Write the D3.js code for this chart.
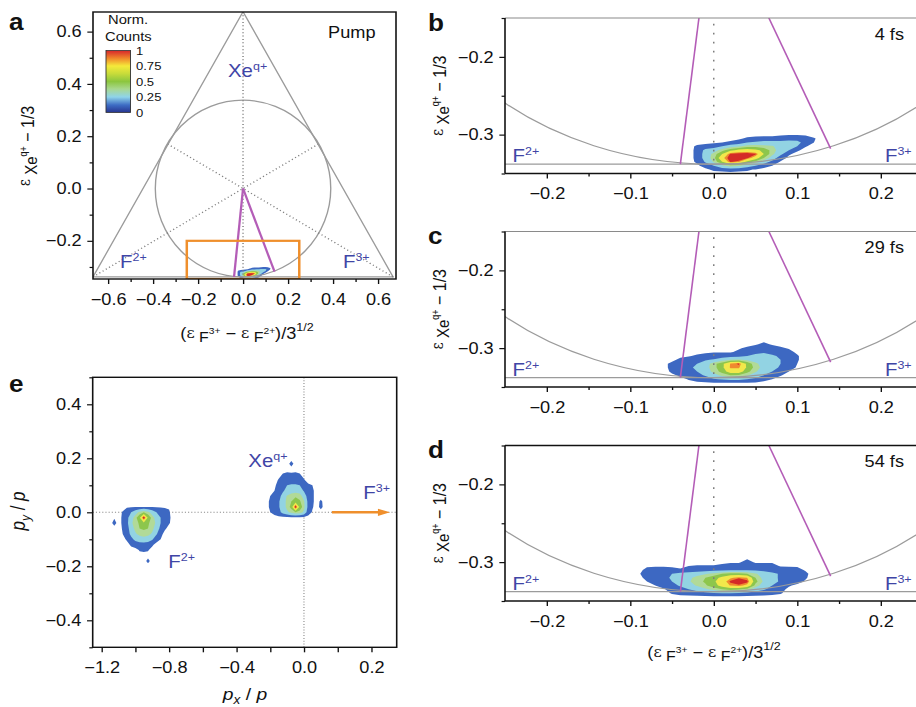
<!DOCTYPE html>
<html>
<head>
<meta charset="utf-8">
<script src="https://cdn.jsdelivr.net/npm/d3@7"></script>
<style>
  body { margin: 0; background: #fff; }
  svg { display: block; font-family: "Liberation Sans", Arial, sans-serif; }
  text { white-space: pre; }
</style>
</head>
<body>
<svg id="chart" width="916" height="707"></svg>
<script>
// the original figure is stretched horizontally; draw in unstretched units and scale
const SX = 1.135;
const X = v => v / SX;

// ---------- data ----------
const colorbarTicks = [0, 0.25, 0.5, 0.75, 1];
const colorbarTickLabels = ["0", "0.25", "0.5", "0.75", "1"];
const colorbarStops = [0, 0.12, 0.25, 0.38, 0.5, 0.63, 0.75, 0.87, 1];
const colorbarColors = ["#27358f", "#3d6cc4", "#8fd4ea", "#a9d88f", "#8cc63f", "#c9dc3a", "#f5ea3a", "#f08a2b", "#d7262b"];

const contourLevels = [0.04, 0.2, 0.38, 0.5, 0.65, 0.84, 0.9];
const contourColors = ["#3d68c2", "#92d3e3", "#b1da98", "#8dc64c", "#f2e84b", "#ef8a2f", "#d42a27"];

const triangleVertices = [[-0.667, -0.338], [0, 0.676], [0.667, -0.338]];
const circleRadii = [0.39, 0.338];
const medianLines = [
  [[0, 0.676], [0, -0.338]],
  [[-0.667, -0.338], [0.333, 0.169]],
  [[0.667, -0.338], [-0.333, 0.169]]
];
const magentaEnds = [[-0.04, -0.338], [0.14, -0.318]];
const zoomBox = [[-0.25, -0.2], [0.25, -0.346]];

const aXTicks = [-0.6, -0.4, -0.2, 0, 0.2, 0.4, 0.6];
const aXMinor = [-0.5, -0.3, -0.1, 0.1, 0.3, 0.5];
const aYTicks = [-0.2, 0, 0.2, 0.4, 0.6];
const aYMinor = [-0.3, -0.1, 0.1, 0.3, 0.5];
const zXTicks = [-0.2, -0.1, 0, 0.1, 0.2];
const zXMinor = [-0.15, -0.05, 0.05, 0.15];
const zYTicks = [-0.3, -0.2];
const zYMinor = [-0.35, -0.25, -0.15];
const eXTicks = [-1.2, -1.0, -0.8, -0.6, -0.4, -0.2, 0, 0.2, 0.4];
const eXLabelTicks = [-1.2, -0.8, -0.4, 0, 0.4];
const eXTickLabels = ["\u22121.2", "\u22120.8", "\u22120.4", "0.0", "0.2"];
const eYTicks = [-0.4, -0.2, 0, 0.2, 0.4];
const eYMinor = [-0.5, -0.3, -0.1, 0.1, 0.3, 0.5];

const delayLabels = ["4 fs", "29 fs", "54 fs"];
const zoomLetters = ["b", "c", "d"];

// density grids: origin = [x of first column, y of first (top) row], step = [dx, dy]
const pumpOrigin = [-0.03, -0.300], pumpStep = [0.01, 0.005];
const pumpValues = [
  [0,0,0,0,0,0,0,0,0,0,0,0.02,0.03,0.03,0.02,0,0],
  [0,0,0,0,0,0,0.02,0.06,0.08,0.10,0.10,0.12,0.15,0.15,0.12,0.05,0],
  [0,0,0,0.02,0.04,0.06,0.10,0.20,0.22,0.25,0.25,0.25,0.25,0.24,0.15,0.04,0],
  [0,0.06,0.10,0.12,0.20,0.30,0.35,0.45,0.45,0.42,0.40,0.30,0.27,0.20,0.05,0,0],
  [0,0.07,0.25,0.30,0.45,0.60,0.70,0.75,0.70,0.60,0.45,0.30,0.20,0.06,0,0,0],
  [0,0.07,0.28,0.42,0.65,0.92,0.96,0.95,0.92,0.65,0.42,0.25,0.06,0,0,0,0],
  [0,0.07,0.28,0.45,0.80,0.96,1.00,0.92,0.75,0.50,0.30,0.10,0.01,0,0,0,0],
  [0,0.06,0.22,0.40,0.65,0.92,0.86,0.60,0.45,0.30,0.15,0.03,0,0,0,0,0],
  [0,0.02,0.08,0.20,0.35,0.45,0.40,0.30,0.20,0.10,0.04,0,0,0,0,0,0],
  [0,0,0.02,0.06,0.08,0.10,0.08,0.06,0.03,0,0,0,0,0,0,0,0],
  [0,0,0,0,0,0,0,0,0,0,0,0,0,0,0,0,0]
];
const fs29Origin = [-0.06, -0.290], fs29Step = [0.01, 0.005];
const fs29Values = [
  [0,0,0,0,0,0,0,0,0,0,0,0,0.02,0,0,0,0,0],
  [0,0,0,0,0,0,0,0,0,0,0,0.03,0.06,0.03,0,0,0,0],
  [0,0,0,0,0,0,0,0,0,0.03,0.06,0.08,0.10,0.08,0.06,0.03,0,0],
  [0,0,0,0,0,0.02,0.03,0.03,0.03,0.06,0.10,0.15,0.18,0.15,0.10,0.07,0.02,0],
  [0,0,0.02,0.03,0.06,0.08,0.10,0.10,0.12,0.15,0.20,0.25,0.25,0.22,0.18,0.10,0.05,0],
  [0,0.02,0.06,0.10,0.12,0.18,0.22,0.30,0.38,0.40,0.35,0.30,0.28,0.25,0.20,0.10,0.05,0],
  [0.02,0.06,0.10,0.15,0.20,0.30,0.45,0.60,0.85,0.92,0.60,0.42,0.30,0.25,0.20,0.10,0.04,0],
  [0,0.08,0.12,0.18,0.22,0.32,0.45,0.60,0.86,0.86,0.62,0.45,0.32,0.25,0.18,0.08,0.03,0],
  [0,0.06,0.10,0.15,0.20,0.30,0.42,0.55,0.75,0.75,0.55,0.40,0.28,0.20,0.10,0.04,0,0],
  [0,0.02,0.06,0.10,0.15,0.22,0.32,0.42,0.50,0.48,0.40,0.30,0.20,0.12,0.05,0,0,0],
  [0,0,0,0.05,0.08,0.12,0.18,0.22,0.25,0.24,0.20,0.15,0.08,0.04,0,0,0,0],
  [0,0,0,0,0.02,0.02,0.02,0.02,0.02,0.02,0.02,0.02,0,0,0,0,0,0],
  [0,0,0,0,0,0,0,0,0,0,0,0,0,0,0,0,0,0]
];
const fs54Origin = [-0.10, -0.290], fs54Step = [0.01, 0.005];
const fs54Values = [
  [0,0,0,0,0,0,0,0,0,0,0,0,0,0,0,0,0,0,0,0,0,0,0],
  [0,0,0,0,0,0,0,0,0,0,0,0,0,0,0.03,0,0,0,0,0,0,0,0],
  [0,0,0,0,0,0,0,0,0,0,0,0.03,0.03,0.03,0.07,0.03,0.03,0.03,0,0,0,0,0],
  [0,0,0.03,0.03,0.03,0.03,0.02,0.04,0.05,0.05,0.05,0.05,0.08,0.08,0.08,0.08,0.08,0.08,0.03,0.03,0.03,0,0],
  [0,0.02,0.06,0.08,0.08,0.06,0.05,0.08,0.10,0.12,0.14,0.15,0.16,0.17,0.18,0.16,0.15,0.12,0.10,0.08,0.07,0.03,0],
  [0,0.03,0.08,0.12,0.16,0.20,0.25,0.28,0.32,0.36,0.42,0.50,0.55,0.55,0.50,0.40,0.30,0.24,0.18,0.14,0.10,0.06,0],
  [0,0.02,0.06,0.10,0.16,0.22,0.28,0.35,0.42,0.50,0.58,0.70,0.82,0.88,0.84,0.50,0.32,0.24,0.18,0.12,0.08,0.05,0],
  [0,0,0.04,0.07,0.13,0.20,0.28,0.36,0.45,0.52,0.62,0.76,0.92,1.00,0.93,0.55,0.35,0.25,0.18,0.12,0.07,0.03,0],
  [0,0,0,0.04,0.08,0.15,0.22,0.30,0.40,0.48,0.58,0.72,0.85,0.88,0.80,0.45,0.30,0.20,0.12,0.05,0.02,0,0],
  [0,0,0,0,0.03,0.08,0.15,0.20,0.28,0.35,0.42,0.50,0.55,0.52,0.45,0.30,0.22,0.14,0.07,0.02,0,0,0],
  [0,0,0,0,0,0.05,0.08,0.10,0.12,0.15,0.18,0.20,0.20,0.18,0.15,0.12,0.10,0.07,0.05,0,0,0,0],
  [0,0,0,0,0,0,0,0,0,0,0,0,0,0,0,0,0,0,0,0,0,0,0],
  [0,0,0,0,0,0,0,0,0,0,0,0,0,0,0,0,0,0,0,0,0,0,0]
];
const f2Origin = [-1.15, 0.04], f2Step = [0.025, 0.02];
const f2Values = [
  [0,0,0,0,0,0,0,0,0,0,0,0,0,0,0,0,0],
  [0,0,0,0,0.03,0.03,0.03,0.03,0.03,0.03,0.03,0.03,0.03,0.03,0.03,0,0],
  [0,0,0,0.05,0.10,0.20,0.30,0.42,0.50,0.42,0.30,0.20,0.12,0.08,0.05,0,0],
  [0,0.03,0,0.06,0.15,0.30,0.45,0.62,1.00,0.62,0.45,0.30,0.20,0.12,0.06,0,0],
  [0,0.08,0,0.06,0.15,0.35,0.45,0.52,0.60,0.52,0.45,0.35,0.20,0.10,0.05,0,0],
  [0,0,0,0.05,0.12,0.30,0.42,0.50,0.52,0.50,0.42,0.30,0.15,0.06,0,0,0],
  [0,0,0,0.04,0.10,0.25,0.36,0.42,0.45,0.42,0.36,0.22,0.08,0,0,0,0],
  [0,0,0,0,0.06,0.15,0.25,0.30,0.32,0.30,0.22,0.10,0.04,0,0,0,0],
  [0,0,0,0,0,0.06,0.10,0.12,0.12,0.10,0.06,0,0,0,0,0,0],
  [0,0,0,0,0,0,0,0.05,0.06,0.05,0,0,0,0,0,0,0],
  [0,0,0,0,0,0,0,0,0,0,0,0,0,0,0,0,0],
  [0,0,0,0,0,0,0,0,0,0.07,0,0,0,0,0,0,0],
  [0,0,0,0,0,0,0,0,0,0,0,0,0,0,0,0,0]
];
const xeOrigin = [-0.225, 0.20], xeStep = [0.025, 0.02];
const xeValues = [
  [0,0,0,0,0,0,0,0,0,0,0,0,0,0,0,0],
  [0,0,0,0,0,0,0.08,0,0,0,0,0,0,0,0,0],
  [0,0,0,0,0,0,0,0,0,0,0,0,0,0,0,0],
  [0,0,0,0,0.05,0.07,0.06,0.07,0.05,0,0,0,0,0,0,0],
  [0,0,0,0.05,0.10,0.12,0.12,0.12,0.10,0.05,0,0,0,0,0,0],
  [0,0,0.02,0.08,0.15,0.20,0.22,0.22,0.20,0.10,0.06,0.04,0,0,0,0],
  [0,0,0.04,0.10,0.18,0.25,0.30,0.32,0.30,0.18,0.10,0.06,0,0,0,0],
  [0,0.04,0.08,0.15,0.25,0.40,0.45,0.48,0.45,0.30,0.12,0.06,0,0,0,0],
  [0,0.06,0.10,0.18,0.30,0.42,0.50,0.58,0.52,0.40,0.15,0.06,0,0.06,0,0],
  [0,0.06,0.10,0.18,0.30,0.42,0.55,1.00,0.60,0.42,0.15,0.05,0,0.07,0,0],
  [0,0.04,0.08,0.15,0.25,0.35,0.42,0.50,0.45,0.35,0.10,0.03,0,0,0,0],
  [0,0,0,0,0,0,0,0,0,0,0,0,0,0,0,0],
  [0,0,0,0,0,0,0,0,0,0,0,0,0,0,0,0]
];
const zoomGrids = [
  [pumpOrigin, pumpStep, pumpValues],
  [fs29Origin, fs29Step, fs29Values],
  [fs54Origin, fs54Step, fs54Values]
];
const eGuides = [[[-1.253, 0], [0.55, 0]], [[0, -0.5], [0, 0.5]]];
const eArrow = [[0.166, 0], [0.51, 0]];

// ---------- style ----------
const GREY = "#9b9b9b", MAGENTA = "#b45db7", ORANGE = "#ef8f2c", LABEL = "#3f45a6", INK = "#111";
const SERIF = "'DejaVu Serif', 'Liberation Serif', serif";

const svg = d3.select("#chart");
const defs = svg.append("defs");
const root = svg.append("g").attr("transform", `scale(${SX},1)`);

// ---------- helpers ----------
function rich(g, parts, base) {
  const t = g.append("text").attr("font-size", base).attr("fill", INK);
  let cur = 0;
  parts.forEach(p => {
    const s = p.shift || 0;
    t.append("tspan")
      .attr("dy", s - cur)
      .attr("font-size", p.fs || base)
      .attr("font-family", p.ff || null)
      .attr("font-style", p.it ? "italic" : null)
      .text(p.t);
    cur = s;
  });
  return t;
}

function styleAxis(sel) {
  sel.select(".domain").remove();
  sel.attr("font-family", null).attr("font-size", 16);
  sel.selectAll("line").attr("stroke", INK).attr("stroke-width", 1.2);
  sel.selectAll("text").attr("fill", INK);
}

function xAxis(g, scale, y, major, minor, fmt) {
  if (minor) {
    g.append("g").attr("transform", `translate(0,${y})`)
      .call(d3.axisBottom(scale).tickValues(minor).tickSize(3).tickFormat(() => ""))
      .call(styleAxis);
  }
  g.append("g").attr("transform", `translate(0,${y})`)
    .call(d3.axisBottom(scale).tickValues(major).tickSize(5).tickPadding(9.5).tickFormat(fmt || d3.format(".1f")))
    .call(styleAxis);
}

function yAxis(g, scale, x, major, minor) {
  if (minor) {
    g.append("g").attr("transform", `translate(${x},0)`)
      .call(d3.axisLeft(scale).tickValues(minor).tickSize(3).tickFormat(() => ""))
      .call(styleAxis);
  }
  g.append("g").attr("transform", `translate(${x},0)`)
    .call(d3.axisLeft(scale).tickValues(major).tickSize(5).tickPadding(5).tickFormat(d3.format(".1f")))
    .call(styleAxis);
}

function clipRect(id, x0, y0, x1, y1) {
  defs.append("clipPath").attr("id", id).append("rect")
    .attr("x", x0).attr("y", y0).attr("width", x1 - x0).attr("height", y1 - y0);
  return `url(#${id})`;
}

function drawCluster(g, origin, step, values, xs, ys) {
  const ny = values.length, nx = values[0].length;
  const bands = d3.contours().size([nx, ny]).thresholds(contourLevels)(values.flat());
  const proj = d3.geoTransform({
    point(gx, gy) {
      this.stream.point(xs(origin[0] + (gx - 0.5) * step[0]), ys(origin[1] - (gy - 0.5) * step[1]));
    }
  });
  const path = d3.geoPath(proj);
  g.append("g").selectAll("path").data(bands).join("path")
    .attr("d", path)
    .attr("fill", (d, i) => contourColors[i]);
}

function drawDalitz(g, xs, ys, dash, magentaWidth) {
  const line = d3.line().x(d => xs(d[0])).y(d => ys(d[1]));
  g.append("path").attr("d", line(triangleVertices) + "Z")
    .attr("fill", "none").attr("stroke", GREY).attr("stroke-width", 1.2);
  g.append("ellipse")
    .attr("cx", xs(0)).attr("cy", ys(0))
    .attr("rx", xs(circleRadii[0]) - xs(0)).attr("ry", ys(0) - ys(circleRadii[1]))
    .attr("fill", "none").attr("stroke", GREY).attr("stroke-width", 1.2);
  g.selectAll(null).data(medianLines).join("path")
    .attr("d", line)
    .attr("stroke", "#7d7d7d").attr("stroke-width", 1.3)
    .attr("stroke-dasharray", dash).attr("fill", "none");
  g.selectAll(null).data(magentaEnds).join("line")
    .attr("x1", xs(0)).attr("y1", ys(0))
    .attr("x2", d => xs(d[0])).attr("y2", d => ys(d[1]))
    .attr("stroke", MAGENTA).attr("stroke-width", magentaWidth);
}

function ionLabel(g, x, y, base, sup) {
  const t = rich(g, [{ t: base, fs: 18 }, { t: sup, fs: 11, shift: -7 }], 18);
  t.attr("x", x).attr("y", y).attr("fill", LABEL);
  t.selectAll("tspan").attr("fill", LABEL);
  return t;
}

const epsYParts = [
  { t: "\u03b5", fs: 14, ff: SERIF, shift: -3 },
  { t: " Xe", fs: 15, shift: 3 },
  { t: "q+", fs: 9, shift: -6 },
  { t: " \u2212 1/3", fs: 16, shift: 0 }
];
const epsXParts = [
  { t: "(", fs: 16 },
  { t: "\u03b5", fs: 14, ff: SERIF, shift: -1 },
  { t: " F", fs: 14, shift: 3 },
  { t: "3+", fs: 9, shift: -5 },
  { t: " \u2212 ", fs: 16, shift: 0 },
  { t: "\u03b5", fs: 14, ff: SERIF, shift: -1 },
  { t: " F", fs: 14, shift: 3 },
  { t: "2+", fs: 9, shift: -5 },
  { t: ")/3", fs: 16, shift: 0 },
  { t: "1/2", fs: 11, shift: -8 }
];

// ---------- panel a ----------
{
  const xs = d3.scaleLinear().domain([-0.667, 0.68]).range([X(93), X(396)]);
  const ys = d3.scaleLinear().domain([-0.346, 0.675]).range([279, 12]);
  const g = root.append("g");
  const body = g.append("g").attr("clip-path", clipRect("clipA", X(93), 12, X(396), 279));

  drawCluster(body, pumpOrigin, pumpStep, pumpValues, xs, ys);
  drawDalitz(body, xs, ys, "1,2.4", 2);
  body.append("rect")
    .attr("x", xs(zoomBox[0][0])).attr("y", ys(zoomBox[0][1]))
    .attr("width", xs(zoomBox[1][0]) - xs(zoomBox[0][0]))
    .attr("height", ys(zoomBox[1][1]) - ys(zoomBox[0][1]))
    .attr("fill", "none").attr("stroke", ORANGE).attr("stroke-width", 2.2);

  ionLabel(g, xs(-0.067), ys(0.427), "Xe", "q+");
  ionLabel(g, xs(-0.547), ys(-0.305), "F", "2+");
  ionLabel(g, xs(0.444), ys(-0.305), "F", "3+");
  g.append("text").attr("x", xs(0.378)).attr("y", ys(0.577))
    .attr("font-size", 16).attr("fill", INK).text("Pump");

  g.append("rect").attr("x", X(93)).attr("y", 12)
    .attr("width", X(396) - X(93)).attr("height", 267)
    .attr("fill", "none").attr("stroke", INK).attr("stroke-width", 1.4);
  xAxis(g, xs, 279, aXTicks, aXMinor);
  yAxis(g, ys, X(93), aYTicks, aYMinor);

  // colour bar
  const grad = defs.append("linearGradient").attr("id", "cbar")
    .attr("x1", 0).attr("y1", 1).attr("x2", 0).attr("y2", 0);
  grad.selectAll("stop").data(colorbarStops).join("stop")
    .attr("offset", d => d).attr("stop-color", (d, i) => colorbarColors[i]);
  const cb = d3.scaleLinear().domain([0, 1]).range([112.5, 50.5]);
  g.append("rect").attr("x", X(106)).attr("y", cb(1))
    .attr("width", X(130.5) - X(106)).attr("height", cb(0) - cb(1))
    .attr("fill", "url(#cbar)").attr("stroke", "#333").attr("stroke-width", 0.8);
  g.selectAll(null).data(colorbarTicks).join("text")
    .attr("x", X(136)).attr("y", d => cb(d)).attr("dy", "0.38em")
    .attr("font-size", 11.5).attr("fill", INK)
    .text((d, i) => colorbarTickLabels[i]);
  g.append("text").attr("x", X(108)).attr("y", 24).attr("font-size", 13).attr("fill", INK).text("Norm.");
  g.append("text").attr("x", X(105)).attr("y", 41).attr("font-size", 13).attr("fill", INK).text("Counts");

  rich(g, epsYParts, 16).attr("text-anchor", "middle")
    .attr("transform", `translate(${X(33.5)},146) rotate(-90)`);
  rich(g, epsXParts, 16).attr("text-anchor", "middle").attr("x", X(247)).attr("y", 339);
  g.append("text").attr("x", X(9)).attr("y", 30).attr("font-size", 23)
    .attr("font-weight", "bold").attr("fill", INK).text("a");
}

// ---------- panels b, c, d ----------
const zoomTops = [18, 231.5, 445.5];
const zoomHeight = 155.5;
const zx = d3.scaleLinear().domain([-0.25, 0.25]).range([X(505), X(922.5)]);
zoomTops.forEach((top, k) => {
  const bottom = top + zoomHeight;
  const ys = d3.scaleLinear().domain([-0.35, -0.15]).range([bottom, top]);
  const g = root.append("g");
  const body = g.append("g").attr("clip-path", clipRect("clipZ" + k, X(505), top, X(930), bottom));
  const [origin, step, values] = zoomGrids[k];
  drawCluster(body, origin, step, values, zx, ys);
  drawDalitz(body, zx, ys, "1.6,7.4", 1.4);

  ionLabel(g, zx(-0.241), bottom - 11, "F", "2+");
  ionLabel(g, zx(0.205), bottom - 11, "F", "3+");
  g.append("text").attr("x", X(904)).attr("y", top + 22).attr("text-anchor", "end")
    .attr("font-size", 16).attr("fill", INK).text(delayLabels[k]);

  g.append("line").attr("x1", X(505)).attr("x2", X(930)).attr("y1", top).attr("y2", top)
    .attr("stroke", k === 2 ? INK : "#8a8a8a").attr("stroke-width", k === 2 ? 1.4 : 1);
  g.append("line").attr("x1", X(505)).attr("x2", X(930)).attr("y1", bottom).attr("y2", bottom)
    .attr("stroke", INK).attr("stroke-width", 1.4);
  g.append("line").attr("x1", X(505)).attr("x2", X(505)).attr("y1", top).attr("y2", bottom)
    .attr("stroke", INK).attr("stroke-width", 1.4);
  xAxis(g, zx, bottom, zXTicks, zXMinor);
  yAxis(g, ys, X(505), zYTicks, zYMinor);

  rich(g, epsYParts, 16).attr("text-anchor", "middle")
    .attr("transform", `translate(${X(446)},${(top + bottom) / 2}) rotate(-90)`);
  g.append("text").attr("x", X(428)).attr("y", top + 13).attr("font-size", 23)
    .attr("font-weight", "bold").attr("fill", INK).text(zoomLetters[k]);
});
rich(root, epsXParts, 16).attr("text-anchor", "middle").attr("x", X(714)).attr("y", 658);

// ---------- panel e ----------
{
  const xs = d3.scaleLinear().domain([-1.253, 0.55]).range([X(92.7), X(396.7)]);
  const ys = d3.scaleLinear().domain([-0.5, 0.5]).range([647.3, 377.3]);
  const g = root.append("g");
  const body = g.append("g").attr("clip-path", clipRect("clipE", X(92.7), 377.3, X(396.7), 647.3));
  const line = d3.line().x(d => xs(d[0])).y(d => ys(d[1]));

  body.selectAll(null).data(eGuides).join("path")
    .attr("d", line).attr("stroke", "#8a8a8a").attr("stroke-width", 1)
    .attr("stroke-dasharray", "1,1.8").attr("fill", "none");
  drawCluster(body, f2Origin, f2Step, f2Values, xs, ys);
  drawCluster(body, xeOrigin, xeStep, xeValues, xs, ys);

  // F3+ momentum arrow
  const tip = [xs(eArrow[1][0]), ys(eArrow[1][1])];
  body.append("line")
    .attr("x1", xs(eArrow[0][0])).attr("y1", ys(eArrow[0][1]))
    .attr("x2", tip[0] - X(9)).attr("y2", tip[1])
    .attr("stroke", ORANGE).attr("stroke-width", 2.6);
  body.append("path")
    .attr("d", `M${tip[0]},${tip[1]}L${tip[0] - X(12)},${tip[1] - 3.6}L${tip[0] - X(12)},${tip[1] + 3.6}Z`)
    .attr("fill", ORANGE);

  ionLabel(g, xs(-0.33), ys(0.169), "Xe", "q+");
  ionLabel(g, xs(-0.805), ys(-0.206), "F", "2+");
  ionLabel(g, xs(0.352), ys(0.048), "F", "3+");

  g.append("rect").attr("x", X(92.7)).attr("y", 377.3)
    .attr("width", X(396.7) - X(92.7)).attr("height", 270)
    .attr("fill", "none").attr("stroke", INK).attr("stroke-width", 1.4);
  xAxis(g, xs, 647.3, eXTicks, null, d => {
    const i = eXLabelTicks.findIndex(v => Math.abs(v - d) < 1e-6);
    return i < 0 ? "" : eXTickLabels[i];
  });
  yAxis(g, ys, X(92.7), eYTicks, eYMinor);

  rich(g, [
    { t: "p", fs: 17, it: true },
    { t: "y", fs: 12, it: true, shift: 4 },
    { t: " / ", fs: 17, shift: 0 },
    { t: "p", fs: 17, it: true }
  ], 17).attr("text-anchor", "middle").attr("transform", `translate(${X(25)},511) rotate(-90)`);
  rich(g, [
    { t: "p", fs: 17, it: true },
    { t: "x", fs: 12, it: true, shift: 4 },
    { t: " / ", fs: 17, shift: 0 },
    { t: "p", fs: 17, it: true }
  ], 17).attr("text-anchor", "middle").attr("x", X(245)).attr("y", 700);
  g.append("text").attr("x", X(9)).attr("y", 392).attr("font-size", 23)
    .attr("font-weight", "bold").attr("fill", INK).text("e");
}
</script>
</body>
</html>
